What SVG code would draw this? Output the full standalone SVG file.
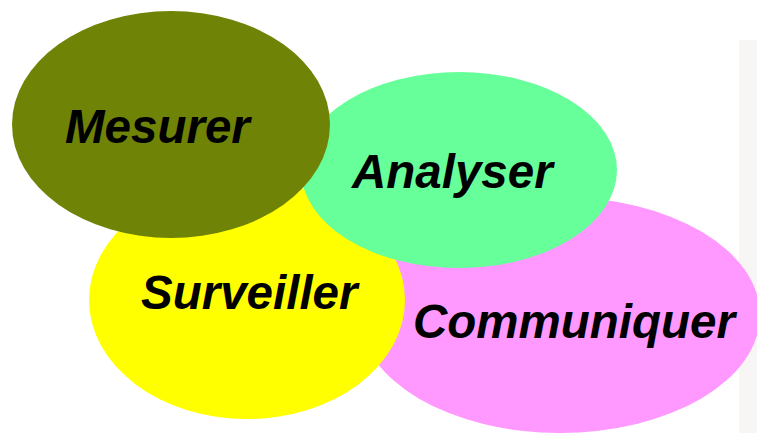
<svg xmlns="http://www.w3.org/2000/svg" width="757" height="433" viewBox="0 0 757 433">
<style>
.lbl{font-family:"Liberation Sans",Arial,sans-serif;font-weight:bold;font-style:italic;font-size:47.5px;fill:#000}
</style>
<rect width="757" height="433" fill="#fff"/>
<rect x="739" y="40" width="18" height="393" fill="#ece6e2" opacity="0.35"/>
<g id="communiquer">
<ellipse cx="560" cy="315" rx="200" ry="118" fill="#FF99FF"/>
</g>
<g id="surveiller">
<ellipse cx="247" cy="300" rx="158" ry="119" fill="#FFFF00"/>
</g>
<g id="analyser">
<ellipse cx="459" cy="170" rx="158" ry="98" fill="#66FF99"/>
</g>
<g id="mesurer">
<ellipse cx="171" cy="124.5" rx="159" ry="113.5" fill="#6F8307"/>
</g>
<g id="connectors"></g>
<g id="labels">
<text class="lbl" x="65" y="143">Mesurer</text>
<text class="lbl" x="352" y="188">Analyser</text>
<text class="lbl" x="141" y="309">Surveiller</text>
<text class="lbl" x="413" y="338">Communiquer</text>
</g>
</svg>
